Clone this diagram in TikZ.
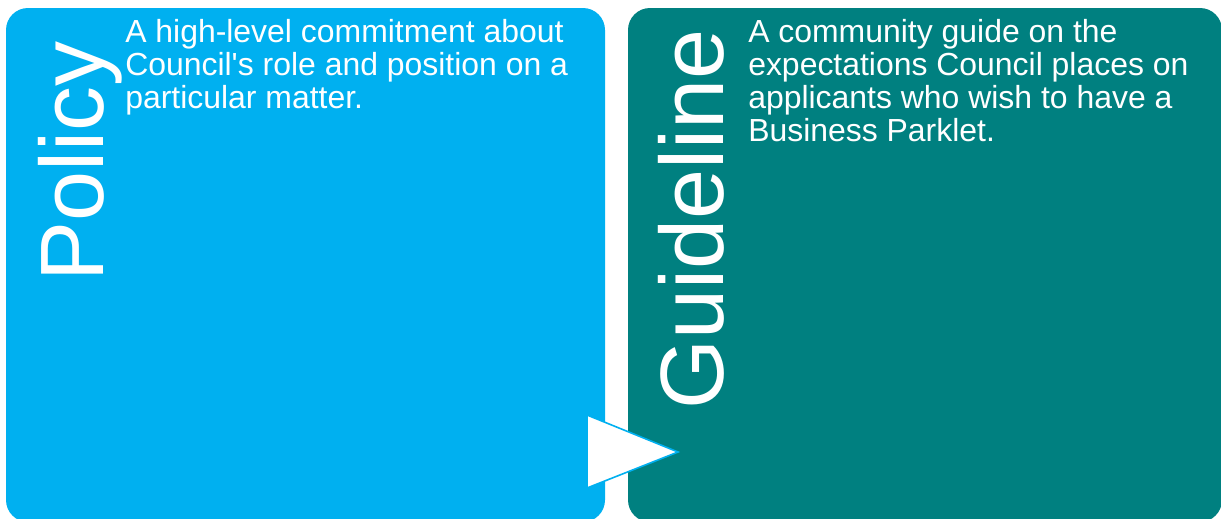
\documentclass[tikz,border=0pt]{standalone}
\usepackage{fontspec}
\setmainfont{Liberation Sans}
\usepackage{tikz}
\usetikzlibrary{positioning}

\definecolor{policyblue}{HTML}{00B0F0}
\definecolor{guideteal}{HTML}{008080}

\tikzset{
  panel/.style={rounded corners=16.5pt},
  title/.style={rotate=90, anchor=base west, inner sep=0pt, text=white,
    font=\fontsize{67.5}{70}\selectfont},
  blurb/.style={anchor=north west, inner sep=0pt, text=white, align=left,
    font=\fontsize{23.95}{24.75}\selectfont}
}

\begin{document}
\begin{tikzpicture}[x=0.75pt, y=-0.75pt]
            \useasboundingbox (0,0) rectangle (1221,518);
            % the two panels
            \fill[panel, policyblue] (6,8) rectangle (605,522);
            \fill[panel, guideteal] (628,8) rectangle (1222,522);

            \node[title] (policy) at (103,282) {Policy};
            \node[title] (guideline) at (723,410) {Guideline};

            \node[blurb] (policytext) at (125,19) {A high-level commitment about\\Council\textquotesingle s role and position on a\\particular matter.};
            \node[blurb] (guidetext) at (748,19) {A community guide on the\\expectations Council places on\\applicants who wish to have a\\Business Parklet.};

            % arrow between the panels
            \draw[policyblue, fill=white, line width=1.2pt] (587,415) -- (678,452) -- (587,488) -- cycle;
\end{tikzpicture}
\end{document}
